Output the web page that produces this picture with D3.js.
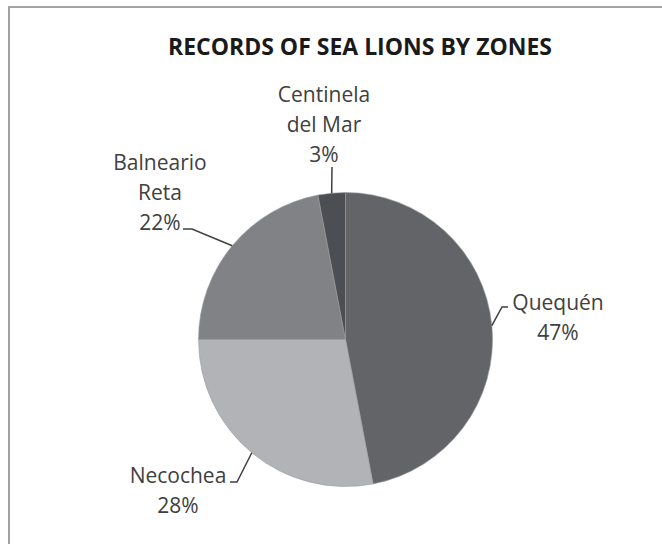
<!DOCTYPE html>
<html>
<head>
<meta charset="utf-8">
<script src="https://cdn.jsdelivr.net/npm/d3@7"></script>
<style>
  html, body { margin: 0; padding: 0; background: #fff; }
  svg { display: block; }
</style>
</head>
<body>
<svg id="chart" width="662" height="544"></svg>
<script>
// ---- data ----
const title = "RECORDS OF SEA LIONS BY ZONES";
const categories = ["Quequén", "Necochea", "Balneario Reta", "Centinela del Mar"];
const labelLines = [["Quequén"], ["Necochea"], ["Balneario", "Reta"], ["Centinela", "del Mar"]];
const values = [47, 28, 22, 3];
const colors = ["#626468", "#b1b3b6", "#808285", "#4b4e52"];

// ---- layout (not data) ----
const W = 662, H = 544;
const cx = 345.5, cy = 339.5, R = 147;
// label anchor (first line baseline), leader start and elbow
const labelLayout = [
  { x: 558, y: 310, lead: [[508, 307], [502, 307]] },
  { x: 178, y: 483, lead: [[230, 482], [237, 482]] },
  { x: 160, y: 170, lead: [[183, 229], [192, 229]] },
  { x: 324, y: 102, lead: [[332, 167]] }
];
const lineH = 30;

const svg = d3.select("#chart");

// frame
svg.append("rect")
  .attr("x", 9).attr("y", 7)
  .attr("width", 700).attr("height", 600)
  .attr("fill", "none")
  .attr("stroke", "#a3a3a3")
  .attr("stroke-width", 2);

// title
svg.append("text")
  .attr("x", 360).attr("y", 55)
  .attr("text-anchor", "middle")
  .attr("font-family", "'Open Sans', sans-serif")
  .attr("font-weight", "bold")
  .attr("font-size", 23)
  .attr("fill", "#1a1a1a")
  .text(title);

const pie = d3.pie().sort(null).value(d => d)(values);
const arc = d3.arc().innerRadius(0).outerRadius(R);

const g = svg.append("g").attr("transform", `translate(${cx},${cy})`);
g.selectAll("path.slice")
  .data(pie)
  .join("path")
  .attr("class", "slice")
  .attr("d", arc)
  .attr("fill", (d, i) => colors[i])
  .attr("stroke", "#9a9c9f")
  .attr("stroke-width", 0.6);

// leaders
pie.forEach((d, i) => {
  const mid = (d.startAngle + d.endAngle) / 2;
  const ex = cx + R * Math.sin(mid);
  const ey = cy - R * Math.cos(mid);
  const pts = labelLayout[i].lead.concat([[ex, ey]]);
  svg.append("path")
    .attr("d", d3.line()(pts))
    .attr("fill", "none")
    .attr("stroke", "#404040")
    .attr("stroke-width", 1.5);
});

// labels
pie.forEach((d, i) => {
  const L = labelLayout[i];
  const pct = Math.round(values[i] / d3.sum(values) * 100) + "%";
  const lines = labelLines[i].concat([pct]);
  const t = svg.append("text")
    .attr("text-anchor", "middle")
    .attr("font-family", "'Open Sans', sans-serif")
    .attr("font-size", 21)
    .attr("fill", "#404040");
  lines.forEach((ln, k) => {
    t.append("tspan").attr("x", L.x).attr("y", L.y + k * lineH).text(ln);
  });
});
</script>
</body>
</html>
